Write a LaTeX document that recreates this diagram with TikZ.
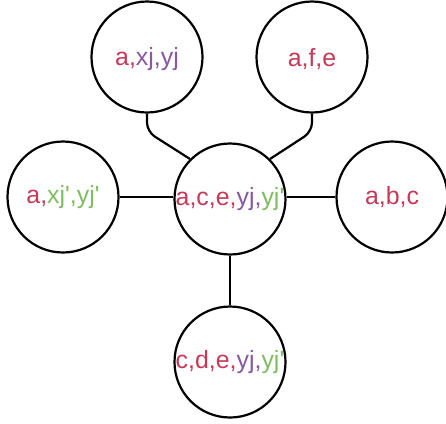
\documentclass[tikz,border=0pt]{standalone}
\usepackage{fontspec}
\setmainfont{Liberation Sans}
\definecolor{cred}{RGB}{198,58,88}
\definecolor{cpur}{RGB}{136,88,160}
\definecolor{cgrn}{RGB}{128,188,98}
\newcommand{\apo}{\textquotesingle}
\begin{document}
\begin{tikzpicture}[x=1bp,y=-1bp,
  ball/.style={circle,draw=black,line width=2.2bp,minimum size=111bp,inner sep=0pt,fill=white},
  txt/.style={inner sep=0pt,font=\fontsize{25}{29}\selectfont},
  conn/.style={draw=black,line width=2.2bp,rounded corners=9bp}]
\useasboundingbox (0,0) rectangle (446,423);
\fill[white] (0,0) rectangle (446,423);
\node[ball] (tl) at (147,57) {};
\node[ball] (tr) at (312,57) {};
\node[ball] (l) at (63,197) {};
\node[ball] (c) at (230,199) {};
\node[ball] (r) at (392,197) {};
\node[ball] (b) at (230,362) {};
\draw[conn] (tl.south) -- ([yshift=-18bp]tl.south) -- (c.135);
\draw[conn] (tr.south) -- ([yshift=-18bp]tr.south) -- (c.45);
\draw[conn] (l.east) -- (l.east -| c.west);
\draw[conn] (c.east |- r.west) -- (r.west);
\draw[conn] (c.south) -- (b.north);
\node[txt] (ttl) at ([yshift=-2bp]tl.center) {\textcolor{cred}{a,}\textcolor{cpur}{xj,yj}};
\node[txt] (ttr) at ([yshift=-2bp]tr.center) {\textcolor{cred}{a,f,e}};
\node[txt] (tlft) at (l) {\textcolor{cred}{a,}\textcolor{cgrn}{xj\apo,yj\apo}};
\node[txt] (tc) at (c) {\textcolor{cred}{a,c,e,}\textcolor{cpur}{yj,}\textcolor{cgrn}{yj\apo}};
\node[txt] (tr2) at (r) {\textcolor{cred}{a,b,c}};
\node[txt] (tb) at (b) {\textcolor{cred}{c,d,e,}\textcolor{cpur}{yj,}\textcolor{cgrn}{yj\apo}};
\end{tikzpicture}
\end{document}
